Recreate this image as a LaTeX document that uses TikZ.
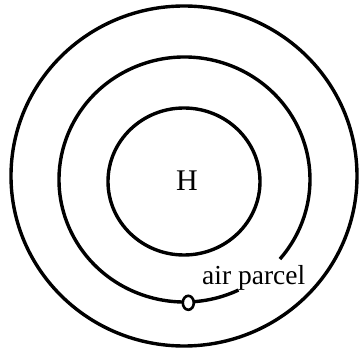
\documentclass[tikz,border=0pt]{standalone}
\usepackage{fontspec}
\setmainfont{Liberation Serif}
\usetikzlibrary{shapes.geometric,calc}
\begin{document}
\begin{tikzpicture}[x=1pt,y=-1pt,
  contour/.style={line width=3.4pt},
  lbl/.style={font=\fontsize{27.5}{27.5}\selectfont, inner sep=0pt},
  parcelmark/.style={draw, ellipse, line width=2.6pt, fill=white, minimum width=11pt, minimum height=14pt, inner sep=0pt}]
\useasboundingbox (0,0) rectangle (360,350);
% outer isobar
\draw[contour] (184,176) ellipse [x radius=173, y radius=170];
% inner isobar
\draw[contour] (184,181.5) ellipse [x radius=76, y radius=73.5];
% middle isobar with gap for label
\coordinate (mc) at (184.5,179.5);
\draw[contour] ($(mc)+({125.5*cos(64.5)},{122.5*sin(64.5)})$) arc[start angle=64.5, end angle=400.5, x radius=125.5, y radius=122.5];
\node[font=\fontsize{30}{30}\selectfont, inner sep=0pt] (H) at (187,181) {H};
\node[lbl, anchor=base west] (label) at (202,285) {air parcel};
\node[parcelmark] (parcel) at (188.3,302.8) {};
\end{tikzpicture}
\end{document}
